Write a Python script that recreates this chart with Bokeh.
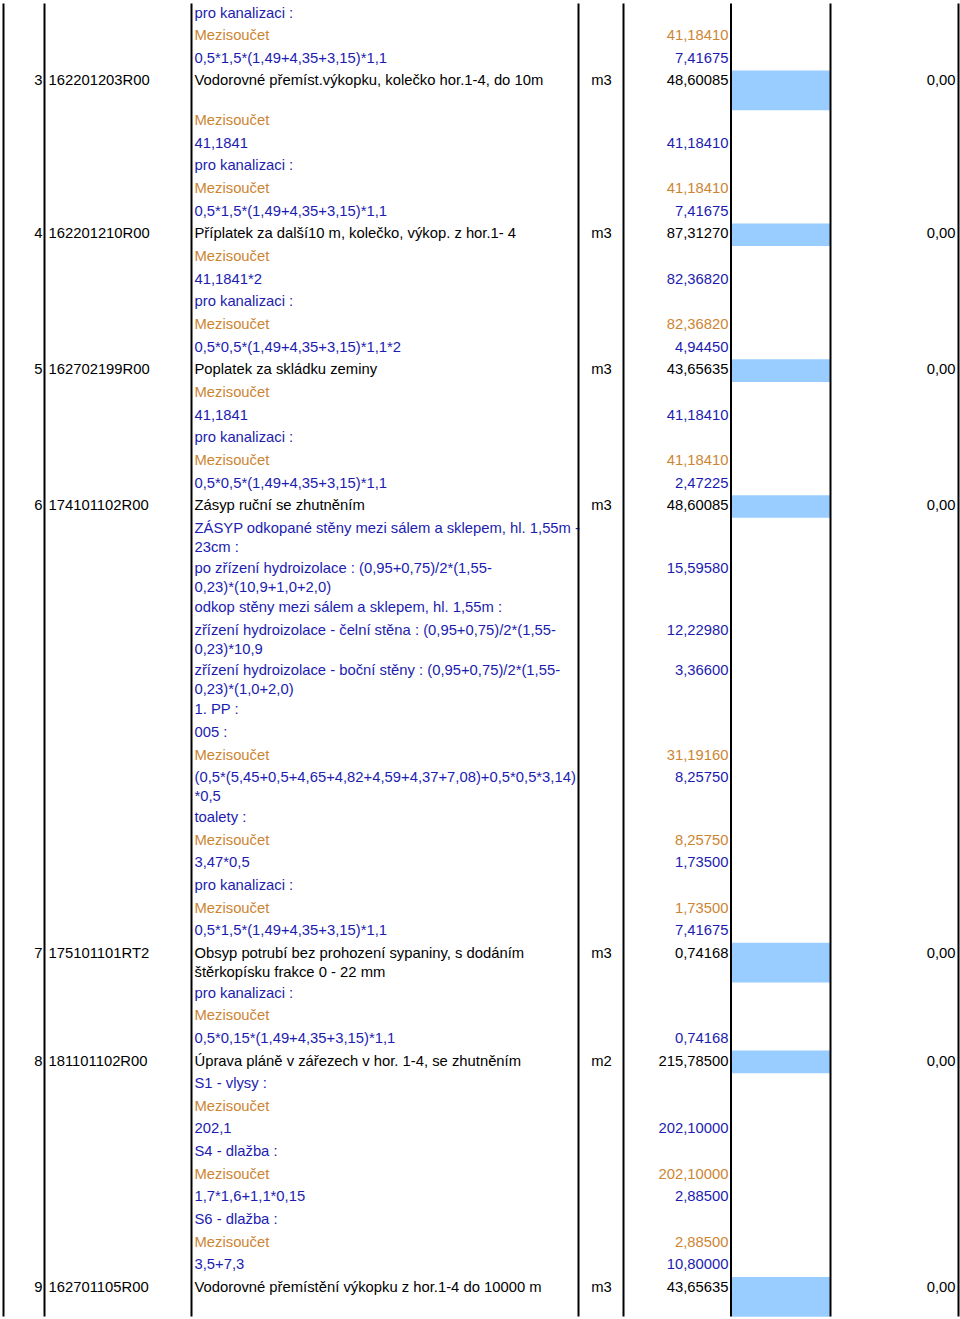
from bokeh.plotting import figure
from bokeh.models import Range1d, ColumnDataSource
from bokeh.embed import file_html
from bokeh.resources import INLINE
from bokeh.core.properties import value

# ---------------- data ----------------
# kind: "item" (priced item, black), "sub" (subtotal, orange), "txt" (measurement text, blue)
kinds = [
    "txt", "sub", "txt", "item",
    "sub", "txt", "txt", "sub", "txt", "item",
    "sub", "txt", "txt", "sub", "txt", "item",
    "sub", "txt", "txt", "sub", "txt", "item",
    "txt", "txt", "txt", "txt", "txt", "txt", "txt", "sub", "txt", "txt", "sub", "txt", "txt", "sub", "txt", "item",
    "txt", "sub", "txt", "item",
    "txt", "sub", "txt", "txt", "sub", "txt", "txt", "sub", "txt", "item",
]
item_numbers = ["3", "4", "5", "6", "7", "8", "9"]
item_codes = ["162201203R00", "162201210R00", "162702199R00", "174101102R00",
              "175101101RT2", "181101102R00", "162701105R00"]
item_units = ["m3", "m3", "m3", "m3", "m3", "m2", "m3"]
item_prices = ["0,00", "0,00", "0,00", "0,00", "0,00", "0,00", "0,00"]
descriptions = [
    "pro kanalizaci :", "Mezisoučet", "0,5*1,5*(1,49+4,35+3,15)*1,1",
    "Vodorovné přemíst.výkopku, kolečko hor.1-4, do 10m",
    "Mezisoučet", "41,1841", "pro kanalizaci :", "Mezisoučet", "0,5*1,5*(1,49+4,35+3,15)*1,1",
    "Příplatek za další10 m, kolečko, výkop. z hor.1- 4",
    "Mezisoučet", "41,1841*2", "pro kanalizaci :", "Mezisoučet", "0,5*0,5*(1,49+4,35+3,15)*1,1*2",
    "Poplatek za skládku zeminy",
    "Mezisoučet", "41,1841", "pro kanalizaci :", "Mezisoučet", "0,5*0,5*(1,49+4,35+3,15)*1,1",
    "Zásyp ruční se zhutněním",
    "ZÁSYP odkopané stěny mezi sálem a sklepem, hl. 1,55m -\n23cm :",
    "po zřízení hydroizolace : (0,95+0,75)/2*(1,55-\n0,23)*(10,9+1,0+2,0)",
    "odkop stěny mezi sálem a sklepem, hl. 1,55m :",
    "zřízení hydroizolace - čelní stěna : (0,95+0,75)/2*(1,55-\n0,23)*10,9",
    "zřízení hydroizolace - boční stěny : (0,95+0,75)/2*(1,55-\n0,23)*(1,0+2,0)",
    "1. PP :", "005 :", "Mezisoučet",
    "(0,5*(5,45+0,5+4,65+4,82+4,59+4,37+7,08)+0,5*0,5*3,14)\n*0,5",
    "toalety :", "Mezisoučet", "3,47*0,5", "pro kanalizaci :", "Mezisoučet",
    "0,5*1,5*(1,49+4,35+3,15)*1,1",
    "Obsyp potrubí bez prohození sypaniny, s dodáním\nštěrkopísku frakce 0 - 22 mm",
    "pro kanalizaci :", "Mezisoučet", "0,5*0,15*(1,49+4,35+3,15)*1,1",
    "Úprava pláně v zářezech v hor. 1-4, se zhutněním",
    "S1 - vlysy :", "Mezisoučet", "202,1", "S4 - dlažba :", "Mezisoučet", "1,7*1,6+1,1*0,15",
    "S6 - dlažba :", "Mezisoučet", "3,5+7,3",
    "Vodorovné přemístění výkopku z hor.1-4 do 10000 m",
]
quantities = [
    "", "41,18410", "7,41675", "48,60085",
    "", "41,18410", "", "41,18410", "7,41675", "87,31270",
    "", "82,36820", "", "82,36820", "4,94450", "43,65635",
    "", "41,18410", "", "41,18410", "2,47225", "48,60085",
    "", "15,59580", "", "12,22980", "3,36600", "", "", "31,19160", "8,25750", "", "8,25750",
    "1,73500", "", "1,73500", "7,41675", "0,74168",
    "", "", "0,74168", "215,78500",
    "", "", "202,10000", "", "202,10000", "2,88500", "", "2,88500", "10,80000", "43,65635",
]

# ---------------- layout / style ----------------
W, H = 960, 1319
TOP0 = 2.0
LINE_H = 22.65
DOUBLE_H = 39.7
TEXT_OFF = 10.0
WRAP_OFF = 19.0
TALL_ROWS = {3, 51}
COL_LINES = [3, 44, 191, 578, 623, 730.5, 830, 958]
X_NUM, X_CODE, X_DESC, X_UNIT, X_QTY, X_PRICE = 42, 48, 194, 601, 728, 955
BOX_L, BOX_R = 731, 830
FONT = value("Liberation Sans")
FS = "14.8px"
COLORS = {"item": "#000000", "sub": "#CD8532", "txt": "#1C1CB0"}
BOX_COLOR = "#99CCFF"

# compute row tops
tops, heights = [], []
y = TOP0
for i, d in enumerate(descriptions):
    n = len(d.split("\n"))
    h = DOUBLE_H if (n > 1 or i in TALL_ROWS) else LINE_H
    tops.append(y)
    heights.append(h)
    y += h

p = figure(width=W, height=H, output_backend="svg", toolbar_location=None,
           x_range=Range1d(0, W), y_range=Range1d(H, 0),
           min_border=0, outline_line_color=None, background_fill_color="white",
           border_fill_color="white")
p.axis.visible = False
p.grid.visible = False

# blue boxes on item rows
item_idx = [i for i, k in enumerate(kinds) if k == "item"]
p.quad(left=[BOX_L] * len(item_idx), right=[BOX_R] * len(item_idx),
       top=[tops[i] for i in item_idx], bottom=[tops[i] + heights[i] for i in item_idx],
       fill_color=BOX_COLOR, line_color=None)

# description texts (one glyph per line)
dx, dy, dt, dc = [], [], [], []
for i, d in enumerate(descriptions):
    for j, line in enumerate(d.split("\n")):
        dx.append(X_DESC)
        dy.append(tops[i] + TEXT_OFF + j * WRAP_OFF)
        dt.append(line)
        dc.append(COLORS[kinds[i]])
p.text(x="x", y="y", text="t", text_color="c",
       source=ColumnDataSource(dict(x=dx, y=dy, t=dt, c=dc)),
       text_font=FONT, text_font_size=FS, text_align="left", text_baseline="middle")

# quantities
qx, qy, qt, qc = [], [], [], []
for i, q in enumerate(quantities):
    if q:
        qx.append(X_QTY)
        qy.append(tops[i] + TEXT_OFF)
        qt.append(q)
        qc.append(COLORS[kinds[i]])
p.text(x="x", y="y", text="t", text_color="c",
       source=ColumnDataSource(dict(x=qx, y=qy, t=qt, c=qc)),
       text_font=FONT, text_font_size=FS, text_align="right", text_baseline="middle")

# item columns
iy = [tops[i] + TEXT_OFF for i in item_idx]
p.text(x=[X_NUM] * len(iy), y=iy, text=item_numbers, text_color="black",
       text_font=FONT, text_font_size=FS, text_align="right", text_baseline="middle")
p.text(x=[X_CODE] * len(iy), y=iy, text=item_codes, text_color="black",
       text_font=FONT, text_font_size=FS, text_align="left", text_baseline="middle")
p.text(x=[X_UNIT] * len(iy), y=iy, text=item_units, text_color="black",
       text_font=FONT, text_font_size=FS, text_align="center", text_baseline="middle")
p.text(x=[X_PRICE] * len(iy), y=iy, text=item_prices, text_color="black",
       text_font=FONT, text_font_size=FS, text_align="right", text_baseline="middle")

# vertical column rules
p.segment(x0=COL_LINES, y0=[3] * len(COL_LINES), x1=COL_LINES, y1=[1316] * len(COL_LINES),
          line_color="black", line_width=2)

open("out.html", "w").write(file_html(p, INLINE))
